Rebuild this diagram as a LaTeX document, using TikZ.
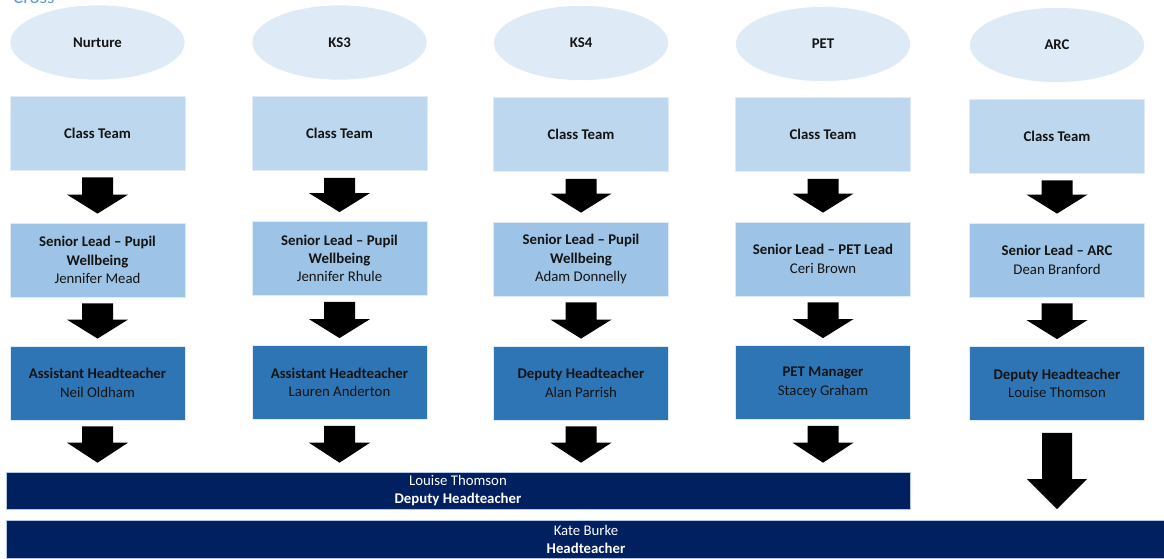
\documentclass[tikz,border=0pt]{standalone}
\usepackage{fontspec}
\setmainfont{Carlito}
\usetikzlibrary{calc,shapes.geometric}
\definecolor{ellfill}{RGB}{222,235,247}
\definecolor{classfill}{RGB}{189,215,238}
\definecolor{seniorfill}{RGB}{157,195,230}
\definecolor{headfill}{RGB}{46,117,182}
\definecolor{barfill}{RGB}{0,32,96}
\definecolor{barline}{RGB}{180,199,231}
\definecolor{boxline}{RGB}{225,235,245}
\definecolor{crossblue}{RGB}{91,155,213}
\definecolor{txt}{RGB}{20,20,20}
\newcommand{\blkarrow}[7]{%
  \fill[black] ($(#1.south)+(-#5,#3)$) -- ($(#1.south)+(#5,#3)$)
    -- ($(#1.south |- #2.north)+(#5,-#4-#7)$) -- ($(#1.south |- #2.north)+(#6,-#4-#7)$)
    -- ($(#1.south |- #2.north)+(0,-#4)$)
    -- ($(#1.south |- #2.north)+(-#6,-#4-#7)$) -- ($(#1.south |- #2.north)+(-#5,-#4-#7)$) -- cycle;}
\begin{document}
\begin{tikzpicture}[x=1pt,y=-1pt,
  every node/.style={font=\fontsize{14.8}{18.3}\selectfont, text=txt, align=center, inner sep=0pt},
  oval/.style={ellipse, fill=ellfill, draw=white, line width=0.6pt, minimum width=175pt, minimum height=75pt, font=\fontsize{14.8}{18.3}\selectfont\bfseries},
  boxbase/.style={rectangle, draw=boxline, line width=0.8pt, minimum width=175pt, minimum height=74pt},
  classbox/.style={boxbase, fill=classfill, font=\fontsize{14.8}{18.3}\selectfont\bfseries},
  seniorbox/.style={boxbase, fill=seniorfill},
  headbox/.style={boxbase, fill=headfill},
  bar/.style={rectangle, fill=barfill, draw=barline, line width=0.6pt, text=white}
]
\useasboundingbox (0,0) rectangle (1164,558);
\clip (0,0) rectangle (1164,558);

\node[anchor=base west, font=\fontsize{19}{22}\selectfont, text=crossblue] (cross) at (13,3) {Cross};

% column 1
\node[oval] (e1) at (97.5,42.5) {Nurture};
\node[classbox] (c1) at (97.5,133) {Class Team};
\node[seniorbox] (s1) at (97.5,260) {\textbf{Senior Lead -- Pupil}\\\textbf{Wellbeing}\\Jennifer Mead};
\node[headbox] (h1) at (97.5,383) {\textbf{Assistant Headteacher}\\Neil Oldham};
% column 2
\node[oval] (e2) at (339.5,42.5) {KS3};
\node[classbox] (c2) at (339.5,133.5) {Class Team};
\node[seniorbox] (s2) at (339.5,258.5) {\textbf{Senior Lead -- Pupil}\\\textbf{Wellbeing}\\Jennifer Rhule};
\node[headbox] (h2) at (339.5,382.5) {\textbf{Assistant Headteacher}\\Lauren Anderton};
% column 3
\node[oval] (e3) at (581,43) {KS4};
\node[classbox] (c3) at (581,134.5) {Class Team};
\node[seniorbox] (s3) at (581,259) {\textbf{Senior Lead -- Pupil}\\\textbf{Wellbeing}\\Adam Donnelly};
\node[headbox] (h3) at (581,383) {\textbf{Deputy Headteacher}\\Alan Parrish};
% column 4
\node[oval] (e4) at (823,44) {PET};
\node[classbox] (c4) at (823,134.5) {Class Team};
\node[seniorbox] (s4) at (823,259) {\textbf{Senior Lead -- PET Lead}\\Ceri Brown};
\node[headbox] (h4) at (823,382.5) {\textbf{PET Manager}\\Stacey Graham};
% column 5
\node[oval] (e5) at (1057,45) {ARC};
\node[classbox] (c5) at (1057,136) {Class Team};
\node[seniorbox] (s5) at (1057,260) {\textbf{Senior Lead -- ARC}\\Dean Branford};
\node[headbox] (h5) at (1057,383.5) {\textbf{Deputy Headteacher}\\Louise Thomson};

% bars
\node[bar, minimum width=904pt, minimum height=37pt] (dep) at (458,490.5) {Louise Thomson\\\textbf{Deputy Headteacher}};
\node[bar, minimum width=1160pt, minimum height=38pt] (head) at (586,539.5) {Kate Burke\\\textbf{Headteacher}};

% arrows
\foreach \i in {1,...,5}{
  \blkarrow{c\i}{s\i}{7}{9}{15.5}{30.5}{19}
  \blkarrow{s\i}{h\i}{6}{7}{15.5}{30.5}{19}
}
\foreach \i in {1,...,4}{
  \blkarrow{h\i}{dep}{6}{9}{15.5}{30.5}{20}
}
\blkarrow{h5}{head}{12}{11}{15}{30}{30}
\end{tikzpicture}
\end{document}
